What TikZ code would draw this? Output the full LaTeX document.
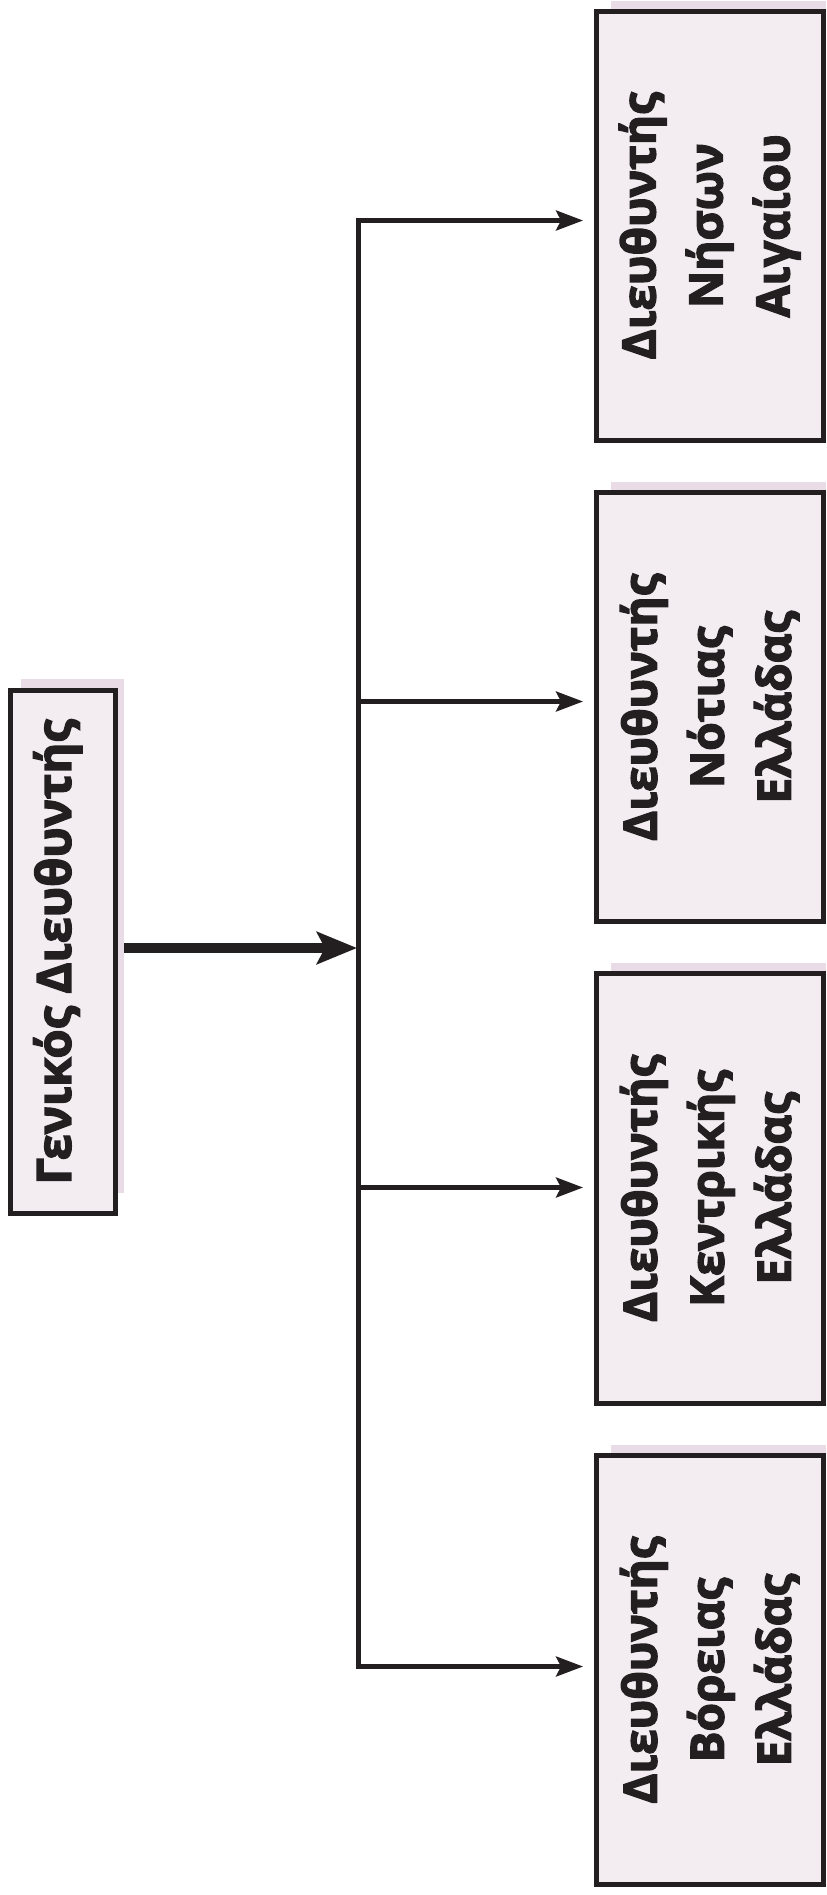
\documentclass[tikz,border=0pt]{standalone}
\usepackage{fontspec}
\setmainfont{Open Sans}[BoldFeatures={FakeBold=3}]
\usetikzlibrary{arrows.meta}

\definecolor{ink}{RGB}{35,31,32}
\definecolor{boxfill}{RGB}{243,237,241}
\definecolor{backtint}{RGB}{234,220,230}

\begin{document}
\begin{tikzpicture}[x=0.5pt,y=-0.5pt,
  panel/.style={rectangle, draw=ink, fill=boxfill, line width=2.5pt,
    inner sep=0pt, outer sep=0pt},
  headpanel/.style={panel, minimum width=52.75pt, minimum height=261.75pt},
  regionpanel/.style={panel, minimum width=113.35pt, minimum height=214.75pt},
  headlabel/.style={rotate=90, text=ink, font=\fontsize{23.6}{34}\selectfont\bfseries},
  regionlabel/.style={rotate=90, text=ink, align=center,
    font=\fontsize{23}{33.5}\selectfont\bfseries},
  mainarrow/.style={draw=ink, line width=5pt,
    -{Stealth[length=20pt, width=16pt, inset=4pt]}},
  branch/.style={draw=ink, line width=2.1pt,
    {Stealth[length=13.5pt, width=10pt, inset=2.5pt]}-{Stealth[length=13.5pt, width=10pt, inset=2.5pt]},
    line join=miter},
  brancharrow/.style={draw=ink, line width=2.1pt,
    -{Stealth[length=13.5pt, width=10pt, inset=2.5pt]}},
]
\useasboundingbox (0,0) rectangle (826,1895);

% tinted backing sheets
\fill[backtint] (21,679) rectangle (124,1193);
\fill[backtint] (611,1) rectangle (826,400);
\fill[backtint] (611,482) rectangle (826,880);
\fill[backtint] (611,963) rectangle (826,1360);
\fill[backtint] (611,1444.5) rectangle (826,1840);

% boxes
\node[headpanel] (gd) at (62.75,951.75) {};
\node[regionpanel] (d1) at (709.65,225.75) {};
\node[regionpanel] (d2) at (709.65,707.15) {};
\node[regionpanel] (d3) at (709.65,1188.25) {};
\node[regionpanel] (d4) at (709.65,1670) {};

% labels
\node[headlabel] (gdt) at ([xshift=-2.5pt]gd.center) {Γενικός Διευθυντής};
\node[regionlabel] (d1t) at (d1.center) {Διευθυντής\\Νήσων\\Αιγαίου};
\node[regionlabel] (d2t) at (d2.center) {Διευθυντής\\Νότιας\\Ελλάδας};
\node[regionlabel] (d3t) at (d3.center) {Διευθυντής\\Κεντρικής\\Ελλάδας};
\node[regionlabel] (d4t) at (d4.center) {Διευθυντής\\Βόρειας\\Ελλάδας};

% distribution bus
\coordinate (hub) at (358.5,948);
\coordinate (b1) at (358.5,220.5);
\coordinate (b2) at (358.5,701.5);
\coordinate (b3) at (358.5,1187.5);
\coordinate (b4) at (358.5,1666.5);

\draw[mainarrow, shorten <=4.25pt, shorten >=0.75pt] (gd.east |- hub) -- (hub);
\draw[branch, shorten <=6.65pt, shorten >=6.65pt]
  (d1.west |- b1) -- (b1) -- (b4) -- (d4.west |- b4);
\draw[brancharrow, shorten >=6.65pt] (b2) -- (d2.west |- b2);
\draw[brancharrow, shorten >=6.65pt] (b3) -- (d3.west |- b3);
\end{tikzpicture}
\end{document}
